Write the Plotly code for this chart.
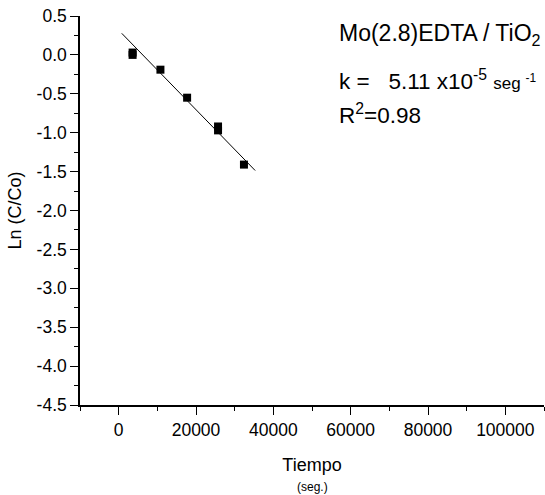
import numpy as np
import plotly.graph_objects as go

# Data
time_s = [3600, 3600, 10800, 17700, 25700, 25700, 32400]
ln_c_co = [0.03, 0.0, -0.19, -0.55, -0.92, -0.97, -1.41]

# Linear fit shown in the chart
k_rate = 5.11e-5
fit_intercept = 0.318
fit_x = [800, 35300]
fit_y = [fit_intercept - k_rate * x for x in fit_x]

x_tick_vals = [0, 20000, 40000, 60000, 80000, 100000]
x_tick_text = [str(v) for v in x_tick_vals]
y_tick_vals = [0.5, 0.0, -0.5, -1.0, -1.5, -2.0, -2.5, -3.0, -3.5, -4.0, -4.5]
y_tick_text = [f"{v:.1f}" for v in y_tick_vals]

FONT = "Arial, 'Liberation Sans', sans-serif"

fig = go.Figure()
fig.add_trace(go.Scatter(x=fit_x, y=fit_y, mode="lines",
                         line=dict(color="black", width=1), showlegend=False))
fig.add_trace(go.Scatter(x=time_s, y=ln_c_co, mode="markers",
                         marker=dict(symbol="square", size=8, color="black"),
                         showlegend=False))

fig.update_layout(
    width=545, height=495,
    margin=dict(l=80, r=1, t=16, b=90),
    paper_bgcolor="white", plot_bgcolor="white",
    font=dict(family=FONT, color="black", size=17),
    xaxis=dict(range=[-10000, 110000], tickvals=x_tick_vals, ticktext=x_tick_text,
               showline=True, linecolor="black", linewidth=1.5, mirror=False,
               ticks="outside", ticklen=8, tickwidth=1.2, tickcolor="black",
               minor=dict(dtick=10000, tick0=0, ticks="outside", ticklen=4,
                          tickwidth=1.2, tickcolor="black"),
               showgrid=False, zeroline=False,
               tickfont=dict(size=17.5),
               title=dict(text="Tiempo", font=dict(size=18), standoff=20)),
    yaxis=dict(range=[-4.5, 0.5], tickvals=y_tick_vals, ticktext=y_tick_text,
               showline=True, linecolor="black", linewidth=1.5, mirror=False,
               ticks="outside", ticklen=8, tickwidth=1.2, tickcolor="black",
               minor=dict(dtick=0.25, tick0=0, ticks="outside", ticklen=4,
                          tickwidth=1.2, tickcolor="black"),
               showgrid=False, zeroline=False,
               tickfont=dict(size=17.5),
               title=dict(text="Ln (C/Co)", font=dict(size=18), standoff=10)),
)

NB = "\u00a0"
ann = [
    dict(text="Mo(2.8)EDTA / TiO<sub>2</sub>", y=(405 - 34) / 389, size=23),
    dict(text=f"k ={NB}{NB}{NB}5.11 x10<sup>-5</sup>{NB}<span style='font-size:17px'>seg{NB}<sup>-1</sup></span>",
         y=(405 - 80) / 389, size=22.5),
    dict(text="R<sup>2</sup>=0.98", y=(405 - 114) / 389, size=22.5),
]
for a in ann:
    fig.add_annotation(text=a["text"], xref="paper", yref="paper",
                       x=(337 - 80) / 464, y=a["y"], xanchor="left", yanchor="middle",
                       showarrow=False, font=dict(size=a["size"], family=FONT, color="black"))

fig.add_annotation(text="(seg.)", xref="paper", yref="paper", x=0.5, y=-(487 - 405) / 389,
                   xanchor="center", yanchor="middle", showarrow=False,
                   font=dict(size=12, family=FONT, color="black"))

fig.write_html("out.html")
